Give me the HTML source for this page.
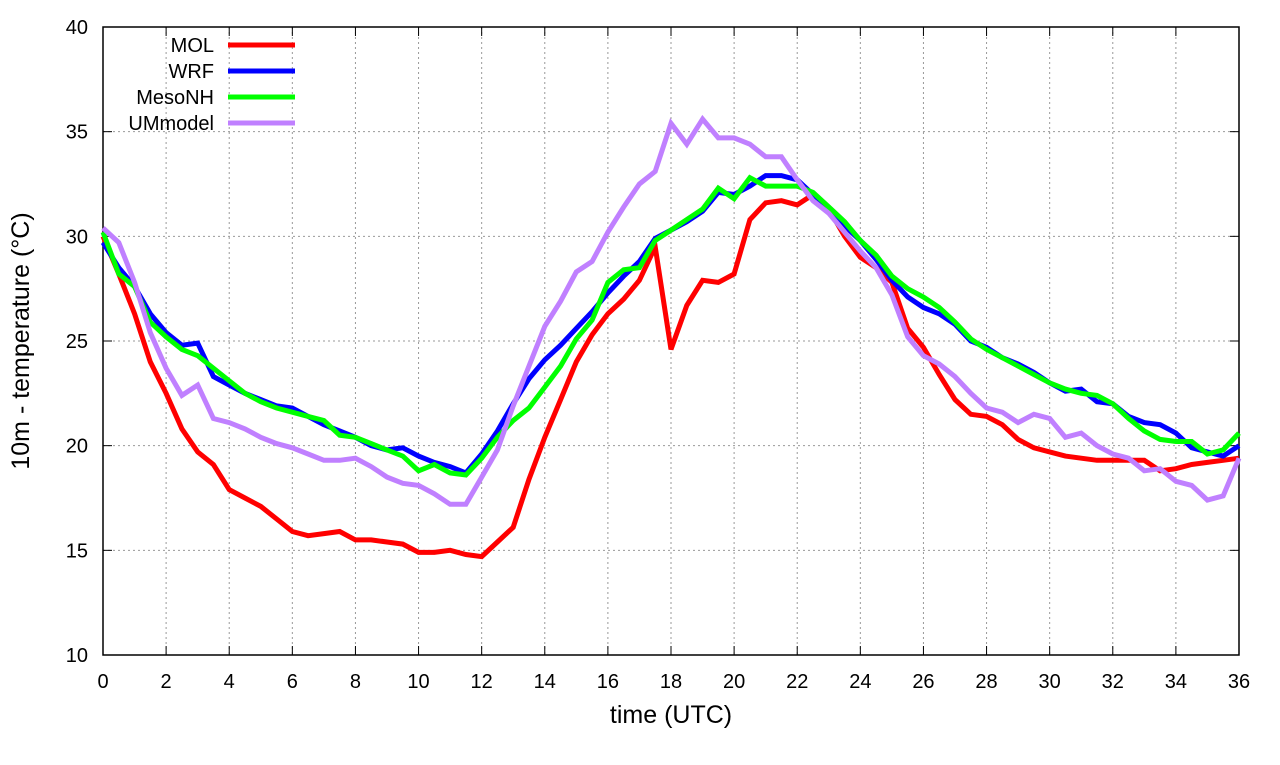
<!DOCTYPE html>
<html><head><meta charset="utf-8"><style>
body{margin:0;background:#fff;}
svg text{font-family:"Liberation Sans",sans-serif;fill:#000;}
</style></head><body>
<svg id="chart" width="1280" height="760" xmlns="http://www.w3.org/2000/svg">
<g id="grid"></g>
<g id="axes"></g>
<g id="series"></g>
<g id="legend"></g>
</svg>
<script>
const xTicks=[0,2,4,6,8,10,12,14,16,18,20,22,24,26,28,30,32,34,36];
const yTicks=[10,15,20,25,30,35,40];
const seriesNames=["MOL","WRF","MesoNH","UMmodel"];
const seriesColors=["#ff0000","#0000ff","#00ff00","#c080ff"];
const mol=[30.0,28.2,26.3,24.0,22.5,20.8,19.7,19.1,17.9,17.5,17.1,16.5,15.9,15.7,15.8,15.9,15.5,15.5,15.4,15.3,14.9,14.9,15.0,14.8,14.7,15.4,16.1,18.4,20.4,22.2,24.0,25.3,26.3,27.0,27.9,29.5,24.6,26.7,27.9,27.8,28.2,30.8,31.6,31.7,31.5,32.0,31.3,30.0,29.0,28.5,27.8,25.6,24.7,23.4,22.2,21.5,21.4,21.0,20.3,19.9,19.7,19.5,19.4,19.3,19.3,19.3,19.3,18.8,18.9,19.1,19.2,19.3,19.4];
const wrf=[29.7,28.5,27.6,26.3,25.4,24.8,24.9,23.3,22.9,22.5,22.2,21.9,21.8,21.4,21.0,20.7,20.4,20.0,19.8,19.9,19.5,19.2,19.0,18.7,19.6,20.7,22.0,23.2,24.1,24.8,25.6,26.4,27.3,28.1,28.8,29.9,30.3,30.7,31.2,32.1,32.0,32.4,32.9,32.9,32.7,32.0,31.3,30.5,29.8,28.9,27.9,27.1,26.6,26.3,25.8,25.0,24.7,24.2,23.9,23.5,23.0,22.6,22.7,22.1,22.0,21.4,21.1,21.0,20.6,19.9,19.7,19.5,20.0];
const mesonh=[30.2,28.2,27.6,25.9,25.2,24.6,24.3,23.7,23.1,22.5,22.1,21.8,21.6,21.4,21.2,20.5,20.4,20.1,19.8,19.5,18.8,19.1,18.7,18.6,19.4,20.4,21.2,21.8,22.8,23.8,25.1,26.0,27.8,28.4,28.5,29.8,30.3,30.8,31.3,32.3,31.8,32.8,32.4,32.4,32.4,32.1,31.4,30.7,29.8,29.1,28.1,27.5,27.1,26.6,25.9,25.1,24.6,24.2,23.8,23.4,23.0,22.7,22.5,22.4,22.0,21.3,20.7,20.3,20.2,20.2,19.6,19.8,20.6];
const um=[30.4,29.7,27.8,25.4,23.7,22.4,22.9,21.3,21.1,20.8,20.4,20.1,19.9,19.6,19.3,19.3,19.4,19.0,18.5,18.2,18.1,17.7,17.2,17.2,18.5,19.8,21.9,23.8,25.7,26.9,28.3,28.8,30.2,31.4,32.5,33.1,35.4,34.4,35.6,34.7,34.7,34.4,33.8,33.8,32.7,31.7,31.1,30.2,29.3,28.5,27.2,25.2,24.3,23.9,23.3,22.5,21.8,21.6,21.1,21.5,21.3,20.4,20.6,20.0,19.6,19.4,18.8,18.9,18.3,18.1,17.4,17.6,19.4];
const timeStep=0.5;
const X0=103,X1=1239,Y0=655,Y1=27;
const xs=t=>X0+(t-0)/(36-0)*(X1-X0);
const ys=v=>Y0-(v-10)/(40-10)*(Y0-Y1);
const NS="http://www.w3.org/2000/svg";
function mk(tag,attrs,parent,text){const e=document.createElementNS(NS,tag);for(const k in attrs)e.setAttribute(k,attrs[k]);if(text!==undefined)e.textContent=text;parent.appendChild(e);return e;}
const grid=document.getElementById('grid'),axes=document.getElementById('axes'),ser=document.getElementById('series'),leg=document.getElementById('legend');
xTicks.forEach(t=>{
  if(t>0&&t<36){const g=mk('line',{x1:xs(t),x2:xs(t),y1:Y1,y2:Y0,stroke:'#999','stroke-width':1,'stroke-dasharray':'2,3'},grid);
  
  }
  const tk=mk('line',{x1:xs(t),x2:xs(t),y1:Y0,y2:Y0-9,stroke:'#000','stroke-width':1},axes);
  
  
  const tk2=mk('line',{x1:xs(t),x2:xs(t),y1:Y1,y2:Y1+9,stroke:'#000','stroke-width':1},axes);
  
  
  const l=mk('text',{x:xs(t),y:Y0+33,'font-size':20,'text-anchor':'middle'},axes,String(t));
  
  
});
yTicks.forEach(v=>{
  if(v>10&&v<40){const g=mk('line',{x1:X0,x2:X1,y1:ys(v),y2:ys(v),stroke:'#999','stroke-width':1,'stroke-dasharray':'2,3'},grid);
  
  }
  const tk=mk('line',{x1:X0,x2:X0+9,y1:ys(v),y2:ys(v),stroke:'#000','stroke-width':1},axes);
  
  
  const tk2=mk('line',{x1:X1,x2:X1-9,y1:ys(v),y2:ys(v),stroke:'#000','stroke-width':1},axes);
  
  
  const l=mk('text',{x:X0-15,y:ys(v)+7,'font-size':20,'text-anchor':'end'},axes,String(v));
  
  
});
const frame=mk('rect',{x:X0,y:Y1,width:X1-X0,height:Y0-Y1,fill:'none',stroke:'#000','stroke-width':1.5},axes);


const xt=mk('text',{x:(X0+X1)/2,y:723,'font-size':25,'text-anchor':'middle'},axes,'time (UTC)');


const yt=mk('text',{x:0,y:0,'font-size':25,'text-anchor':'middle',transform:'translate(29,341) rotate(-90)'},axes,'10m - temperature (°C)');


const allSeries=[mol,wrf,mesonh,um];
allSeries.forEach((d,i)=>{
  const pts=d.map((v,j)=>xs(j*timeStep).toFixed(1)+','+ys(v).toFixed(1)).join(' ');
  const p=mk('polyline',{points:pts,fill:'none',stroke:seriesColors[i],'stroke-width':5,'stroke-linejoin':'miter'},ser);
  
  
  const ly=45+i*26;
  const lt=mk('text',{x:214,y:ly+7,'font-size':20,'text-anchor':'end'},leg,seriesNames[i]);
  
  
  const ll=mk('line',{x1:228,x2:295,y1:ly,y2:ly,stroke:seriesColors[i],'stroke-width':5},leg);
  
  
});
</script>
</body></html>
